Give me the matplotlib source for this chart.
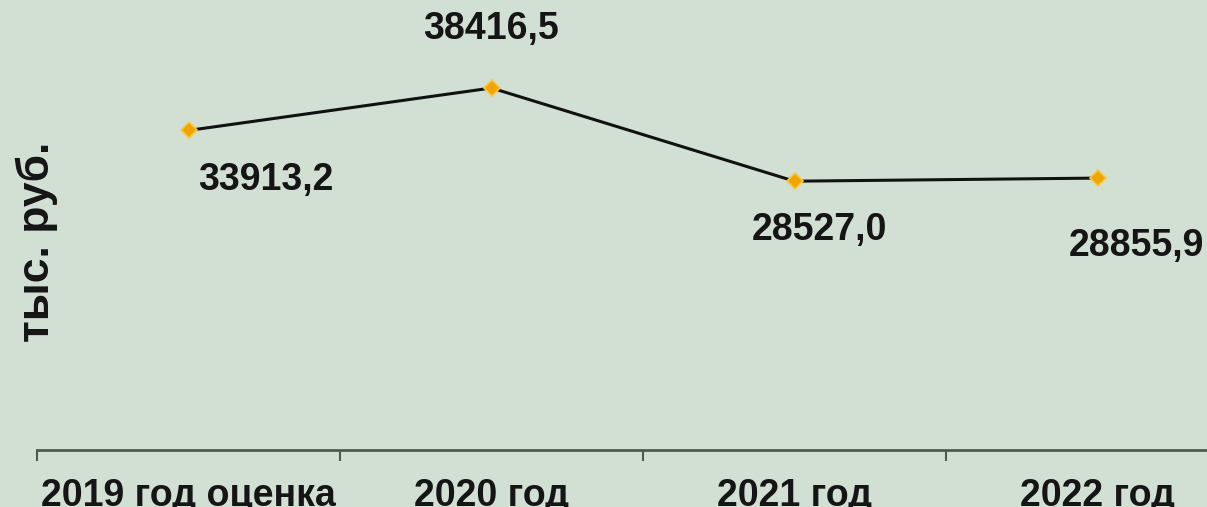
import matplotlib
matplotlib.use("Agg")
import matplotlib.pyplot as plt
import numpy as np

categories = ["2019 год оценка", "2020 год", "2021 год", "2022 год"]
values = [33913.2, 38416.5, 28527.0, 28855.9]
value_labels = ["33913,2", "38416,5", "28527,0", "28855,9"]
label_offsets = [(77, -50), (0, 59), (25, -49), (39, -68)]  # pixels

plt.rcParams['font.family'] = ['Liberation Sans', 'DejaVu Sans']
bg = "#d2e0d4"
W, H = 1207, 507
fig = plt.figure(figsize=(W/100, H/100), dpi=100, facecolor=bg)
ax_left, ax_right, ax_top, ax_bottom = 37, 1207, 0, 450
ax = fig.add_axes([ax_left/W, 1-ax_bottom/H, (ax_right-ax_left)/W, (ax_bottom-ax_top)/H])
ax.set_facecolor(bg)

x = np.arange(len(categories))
ax.plot(x, values, color="#111111", lw=2.2, zorder=2)
ax.plot(x, values, linestyle="none", marker="D", ms=8, mfc="#f0a500", mec="#f7c840", mew=1.2, zorder=3)

for xi, v, lab, (dx, dy) in zip(x, values, value_labels, label_offsets):
    ax.annotate(lab, (xi, v), xytext=(dx, dy), textcoords="offset pixels",
                ha="center", va="center", fontsize=27, fontweight="bold", color="#151515")

ax.set_xlim(-0.5, -0.5 + (ax_right-ax_left)/303.0)
ax.set_ylim(0, 38416.5*450/362)

for s in ["top", "right", "left"]:
    ax.spines[s].set_visible(False)
ax.spines["bottom"].set_color("#4d5a52")
ax.spines["bottom"].set_linewidth(2)
ax.set_yticks([])
ax.set_xticks(np.arange(-0.5, 3.0, 1.0))
ax.set_xticklabels([])
ax.tick_params(axis="x", which="major", length=8, width=1.5, color="#4d5a52", direction="out")
ax.set_xticks(x, minor=True)
ax.set_xticklabels(categories, minor=True, fontsize=27, fontweight="bold", color="#151515")
ax.tick_params(axis="x", which="minor", length=0, pad=20)

fig.text(37/W, 1-242/H, "тыс. руб.", rotation=90, ha="center", va="center",
         fontsize=32, fontweight="bold", color="#151515")

fig.savefig("out.png", dpi=100, facecolor=bg)
